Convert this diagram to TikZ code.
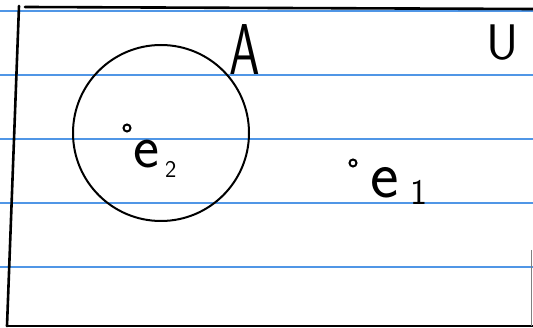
\documentclass[tikz,border=0pt]{standalone}
\usepackage{fontspec}
\tikzset{
  ruled/.style={draw={rgb,255:red,80;green,150;blue,230}, line width=2pt},
  boxline/.style={draw=black, line width=2.6pt, line cap=round},
  setline/.style={draw=black, line width=2pt},
  elemdot/.style={circle, draw=black, line width=2pt, inner sep=0pt, minimum size=7pt},
  hand/.style={inner sep=0pt, font=\sffamily},
}
\begin{document}
\begin{tikzpicture}[x=1pt,y=-1pt]
\useasboundingbox (0,0) rectangle (533,328);
\fill[white] (0,0) rectangle (533,328);
% ruled paper lines
\foreach \yy in {11,75,139,203,267}
  \draw[ruled] (0,\yy) -- (533,\yy);
% universe box
\coordinate (tl) at (25,7);
\coordinate (tr) at (533,9);
\coordinate (lt) at (19,6);
\coordinate (lb) at (7,326);
\coordinate (bl) at (7,326);
\coordinate (br) at (533,326);
\coordinate (rt) at (531.5,250);
\coordinate (rb) at (531.5,326);
\draw[boxline] (tl) -- (tr);
\draw[boxline] (lt) -- (lb);
\draw[boxline] (bl) -- (br);
\draw[gray, line width=1.5pt] (rt) -- (rb);
% set A
\node[setline, circle, minimum size=176pt, inner sep=0pt] (setA) at (161,133) {};
% labels
\node[hand, anchor=base west] (labA) at (229,75) {\fontsize{72}{72}\selectfont\scalebox{0.68}[1]{A}};
\node[hand, anchor=base west] (labU) at (486,60) {\fontsize{50}{50}\selectfont U};
% elements
\node[elemdot] (e2dot) at (127,128) {};
\node[hand, anchor=base west] (e2) at (133,168) {\fontsize{62}{62}\selectfont e\hspace{6pt}\raisebox{-10pt}{\fontsize{24}{24}\selectfont 2}};
\node[elemdot] (e1dot) at (353,163) {};
\node[hand, anchor=base west] (e1) at (370,198) {\fontsize{68}{68}\selectfont e\hspace{12pt}\raisebox{-7pt}{\fontsize{36}{36}\selectfont 1}};
\end{tikzpicture}
\end{document}
